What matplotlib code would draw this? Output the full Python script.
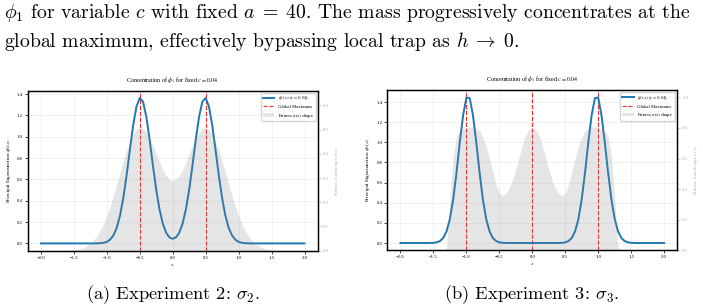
import numpy as np
import matplotlib
matplotlib.use('Agg')
import matplotlib.pyplot as plt
from matplotlib.lines import Line2D
from matplotlib.patches import Patch

# x grid shared by all curves (-2 .. 2, step 0.05)
X = np.linspace(-2.0, 2.0, 81)

# Experiment 2 (sigma_2): principal eigenfunction and fitness shape
PHI_2 = [0, 0, 0, 0, 0, 0, 0, 0, 0, 0, 0, 0, 0, 0, 0, 0,
         0.0, 0.001, 0.002, 0.006, 0.015, 0.035, 0.075, 0.145, 0.259, 0.424,
         0.637, 0.877, 1.108, 1.283, 1.364, 1.329, 1.187, 0.973, 0.731, 0.504,
         0.319, 0.186, 0.101, 0.057,
         0.043,
         0.057, 0.101, 0.186, 0.319, 0.504, 0.731, 0.973, 1.187, 1.329, 1.364,
         1.283, 1.108, 0.877, 0.637, 0.424, 0.259, 0.145, 0.075, 0.035, 0.015,
         0.006, 0.002, 0.001, 0.0,
         0, 0, 0, 0, 0, 0, 0, 0, 0, 0, 0, 0, 0, 0, 0, 0]
FIT_2 = [0, 0, 0, 0, 0, 0, 0,
         0.001, 0.001, 0.002, 0.003, 0.006, 0.009, 0.014, 0.021, 0.030, 0.044,
         0.061, 0.084, 0.111, 0.145, 0.184, 0.227, 0.274, 0.322, 0.370, 0.414,
         0.452, 0.482, 0.501, 0.508, 0.504, 0.489, 0.465, 0.434, 0.400, 0.366,
         0.335, 0.310, 0.295,
         0.289,
         0.295, 0.310, 0.335, 0.366, 0.400, 0.434, 0.465, 0.489, 0.504, 0.508,
         0.501, 0.482, 0.452, 0.414, 0.370, 0.322, 0.274, 0.227, 0.184, 0.145,
         0.111, 0.084, 0.061, 0.044, 0.030, 0.021, 0.014, 0.009, 0.006, 0.003,
         0.002, 0.001, 0.001,
         0, 0, 0, 0, 0, 0, 0]
MAX_2 = [-0.5, 0.5]

# Experiment 3 (sigma_3)
PHI_3 = [0, 0, 0, 0, 0, 0, 0, 0, 0,
         0.001, 0.002, 0.007, 0.020, 0.051, 0.118, 0.240, 0.435, 0.700, 1.000,
         1.268, 1.445, 1.440, 1.268, 1.000, 0.700, 0.435, 0.240, 0.118, 0.051,
         0.020, 0.007, 0.002, 0.001,
         0, 0, 0, 0, 0, 0, 0,
         0,
         0, 0, 0, 0, 0, 0, 0,
         0.001, 0.002, 0.007, 0.020, 0.051, 0.118, 0.240, 0.435, 0.700, 1.000,
         1.268, 1.440, 1.445, 1.268, 1.000, 0.700, 0.435, 0.240, 0.118, 0.051,
         0.020, 0.007, 0.002, 0.001,
         0, 0, 0, 0, 0, 0, 0, 0, 0]
FIT_3 = [0, 0, 0, 0, 0, 0, 0, 0, 0, 0, 0, 0, 0, 0,
         0.020, 0.340, 0.610, 0.745, 0.780, 0.795, 0.800, 0.805, 0.805, 0.800,
         0.780, 0.740, 0.680, 0.600, 0.520, 0.430, 0.375, 0.357, 0.370, 0.405,
         0.460, 0.530, 0.610, 0.690, 0.755, 0.790,
         0.800,
         0.790, 0.755, 0.690, 0.610, 0.530, 0.460, 0.405, 0.370, 0.357, 0.375,
         0.430, 0.520, 0.600, 0.680, 0.740, 0.780, 0.800, 0.805, 0.805, 0.800,
         0.795, 0.780, 0.745, 0.610, 0.340, 0.020,
         0, 0, 0, 0, 0, 0, 0, 0, 0, 0, 0, 0, 0, 0]
MAX_3 = [-1.0, 0.0, 1.0]

TITLE = r'Concentration of $\phi_1$ for fixed $c = 0.04$'
PHI_LABEL = r'$\phi_1(x)$ ($c = 0.04$)'
MAX_LABEL = 'Global Maximum'
FIT_LABEL = r'Fitness $\sigma(x)$ shape'
YLABEL = r'Principal Eigenfunction $\phi_1(x)$'
Y2LABEL = r'Fitness Landscape $\sigma(x)$'

PAGE_LINE1 = r'$\phi_1$ for variable $c$ with fixed $a\;=\;40$. The mass progressively concentrates at the'
PAGE_LINE2 = r'global maximum, effectively bypassing local trap as $h\;\to\;0$.'
CAPTIONS = [r'(a) Experiment 2: $\sigma_2$.', r'(b) Experiment 3: $\sigma_3$.']

plt.rcParams.update({
    'font.family': 'serif',
    'font.serif': ['Liberation Serif', 'DejaVu Serif'],
    'mathtext.fontset': 'stix',
})

W, H = 703, 308
fig = plt.figure(figsize=(W / 100, H / 100), dpi=100)

GRAY_TXT = '#b0b0b0'
BLUE = '#1f77b4'


def panel(rect, phi, fit, maxima):
    ax = fig.add_axes(rect)
    ax.plot(X, phi, color=BLUE, lw=1.4, zorder=3)
    for m in maxima:
        ax.axvline(m, color='red', ls='--', lw=0.8, alpha=0.85, zorder=2)
    ax.set_title(TITLE, fontsize=4.3, pad=6.5)
    ax.set_xlabel('$x$', fontsize=3.8, labelpad=1.5)
    ax.set_ylabel(YLABEL, fontsize=3.8, labelpad=3)
    ax.grid(True, color='#dddddd', lw=0.4, alpha=0.7)
    ax.tick_params(labelsize=3.4, length=2, width=0.5, pad=1.5)
    for s in ax.spines.values():
        s.set_linewidth(0.9)
    ax.set_xticks([-2.0, -1.5, -1.0, -0.5, 0.0, 0.5, 1.0, 1.5, 2.0])

    ax2 = ax.twinx()
    ax2.fill_between(X, 0, fit, color='gray', alpha=0.2, lw=0)
    ax2.set_ylim(0, max(fit) * 1.3)
    ax2.set_ylabel(Y2LABEL, fontsize=3.8, color=GRAY_TXT, labelpad=3)
    ax2.tick_params(labelsize=3.4, length=2, width=0.5, pad=1.5, colors=GRAY_TXT)
    for s in ax2.spines.values():
        s.set_linewidth(0.9)

    handles = [Line2D([], [], color=BLUE, lw=1.4),
               Line2D([], [], color='red', ls='--', lw=0.8, alpha=0.85),
               Patch(facecolor='gray', alpha=0.2)]
    ax2.legend(handles, [PHI_LABEL, MAX_LABEL, FIT_LABEL], loc='upper right',
               fontsize=3.4, handlelength=2.4, borderaxespad=0.4,
               framealpha=0.8, edgecolor='#cccccc')
    return ax


panel([27.7 / W, 1 - 250.7 / H, 290 / W, 160 / H], PHI_2, FIT_2, MAX_2)
panel([387.3 / W, 1 - 250.3 / H, 290 / W, 160 / H], PHI_3, FIT_3, MAX_3)

page_kw = dict(fontfamily='cmr10', math_fontfamily='cm', va='baseline')
fig.text(4.5 / W, 1 - 18.5 / H, PAGE_LINE1, fontsize=14.2, ha='left', **page_kw)
fig.text(4.5 / W, 1 - 47 / H, PAGE_LINE2, fontsize=14.2, ha='left', **page_kw)
fig.text(172.7 / W, 1 - 299 / H, CAPTIONS[0], fontsize=13.3, ha='center', **page_kw)
fig.text(532 / W, 1 - 299 / H, CAPTIONS[1], fontsize=13.3, ha='center', **page_kw)

fig.savefig('out.png', dpi=100)
